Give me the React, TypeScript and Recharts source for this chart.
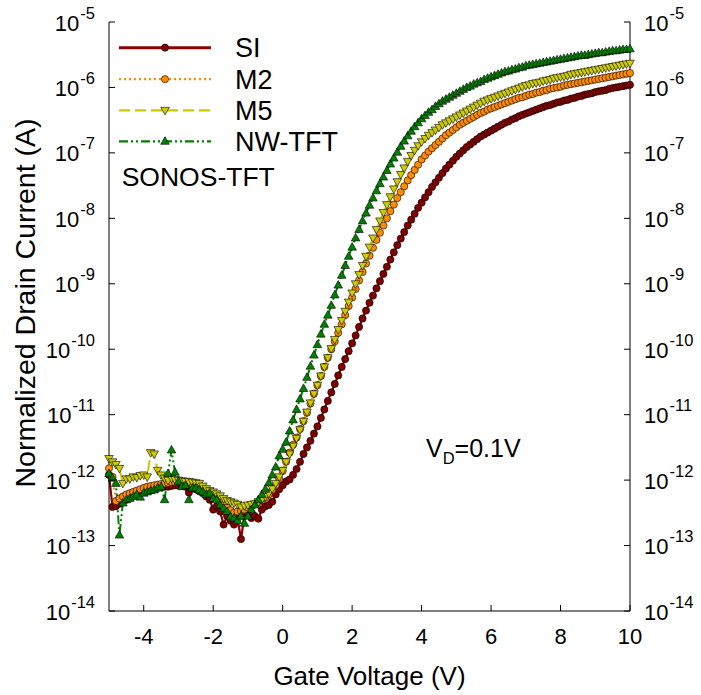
import React from "react";
import { LineChart, Line, XAxis, YAxis, Legend } from "recharts";

// gate voltage sweep (V)
const gateVoltage = [
  -5.0, -4.9, -4.8, -4.7, -4.6, -4.5, -4.4, -4.3, -4.2, -4.1,
  -4.0, -3.9, -3.8, -3.7, -3.6, -3.5, -3.4, -3.3, -3.2, -3.1,
  -3.0, -2.9, -2.8, -2.7, -2.6, -2.5, -2.4, -2.3, -2.2, -2.1,
  -2.0, -1.9, -1.8, -1.7, -1.6, -1.5, -1.4, -1.3, -1.2, -1.1,
  -1.0, -0.9, -0.8, -0.7, -0.6, -0.5, -0.4, -0.3, -0.2, -0.1,
  0.0, 0.1, 0.2, 0.3, 0.4, 0.5, 0.6, 0.7, 0.8, 0.9,
  1.0, 1.1, 1.2, 1.3, 1.4, 1.5, 1.6, 1.7, 1.8, 1.9,
  2.0, 2.1, 2.2, 2.3, 2.4, 2.5, 2.6, 2.7, 2.8, 2.9,
  3.0, 3.1, 3.2, 3.3, 3.4, 3.5, 3.6, 3.7, 3.8, 3.9,
  4.0, 4.1, 4.2, 4.3, 4.4, 4.5, 4.6, 4.7, 4.8, 4.9,
  5.0, 5.1, 5.2, 5.3, 5.4, 5.5, 5.6, 5.7, 5.8, 5.9,
  6.0, 6.1, 6.2, 6.3, 6.4, 6.5, 6.6, 6.7, 6.8, 6.9,
  7.0, 7.1, 7.2, 7.3, 7.4, 7.5, 7.6, 7.7, 7.8, 7.9,
  8.0, 8.1, 8.2, 8.3, 8.4, 8.5, 8.6, 8.7, 8.8, 8.9,
  9.0, 9.1, 9.2, 9.3, 9.4, 9.5, 9.6, 9.7, 9.8, 9.9,
  10.0,
];

// drain current, log10(A)
const siLog = [
  -11.92, -12.41, -12.40, -12.36, -12.33, -12.30, -12.27, -12.24, -12.22, -12.20,
  -12.18, -12.16, -12.15, -12.13, -12.12, -12.11, -12.10, -12.10, -12.09, -12.08,
  -12.08, -12.09, -12.10, -12.19, -12.12, -12.14, -12.17, -12.20, -12.25, -12.30,
  -12.45, -12.40, -12.48, -12.68, -12.55, -12.62, -12.68, -12.58, -12.90, -12.55,
  -12.52, -12.58, -12.55, -12.59, -12.45, -12.40, -12.38, -12.33, -12.22, -12.14,
  -12.08, -12.02, -11.99, -11.92, -11.83, -11.72, -11.60, -11.50, -11.40, -11.29,
  -11.18, -11.05, -10.92, -10.79, -10.66, -10.53, -10.40, -10.27, -10.15, -10.03,
  -9.91, -9.79, -9.66, -9.53, -9.41, -9.29, -9.18, -9.07, -8.96, -8.85,
  -8.74, -8.63, -8.52, -8.41, -8.31, -8.21, -8.11, -8.02, -7.93, -7.84,
  -7.76, -7.68, -7.60, -7.52, -7.45, -7.38, -7.31, -7.24, -7.18, -7.12,
  -7.06, -7.01, -6.96, -6.91, -6.87, -6.83, -6.79, -6.75, -6.72, -6.69,
  -6.66, -6.63, -6.60, -6.57, -6.54, -6.52, -6.49, -6.47, -6.44, -6.42,
  -6.40, -6.38, -6.36, -6.34, -6.32, -6.30, -6.28, -6.27, -6.25, -6.23,
  -6.22, -6.20, -6.19, -6.17, -6.16, -6.14, -6.13, -6.11, -6.10, -6.09,
  -6.07, -6.06, -6.05, -6.04, -6.02, -6.01, -6.00, -5.99, -5.98, -5.97,
  -5.96,
];

const m2Log = [
  -11.82, -11.95, -12.32, -12.28, -12.25, -12.22, -12.20, -12.18, -12.16, -12.14,
  -12.12, -12.10, -12.09, -12.08, -12.07, -12.06, -12.05, -12.04, -12.03, -12.03,
  -12.02, -12.03, -12.04, -12.05, -12.07, -12.08, -12.10, -12.13, -12.16, -12.20,
  -12.24, -12.28, -12.33, -12.38, -12.42, -12.46, -12.50, -12.48, -12.47, -12.45,
  -12.42, -12.40, -12.37, -12.34, -12.31, -12.27, -12.22, -12.15, -12.08, -11.98,
  -11.86, -11.72, -11.58, -11.46, -11.35, -11.22, -11.10, -10.97, -10.83, -10.68,
  -10.55, -10.41, -10.27, -10.13, -10.00, -9.88, -9.75, -9.62, -9.48, -9.34,
  -9.21, -9.08, -8.95, -8.82, -8.69, -8.57, -8.45, -8.33, -8.22, -8.11,
  -8.00, -7.89, -7.79, -7.69, -7.60, -7.51, -7.42, -7.34, -7.26, -7.18,
  -7.10, -7.04, -6.98, -6.93, -6.88, -6.83, -6.78, -6.73, -6.69, -6.65,
  -6.61, -6.57, -6.54, -6.51, -6.48, -6.45, -6.42, -6.39, -6.37, -6.34,
  -6.32, -6.30, -6.28, -6.26, -6.24, -6.22, -6.20, -6.18, -6.16, -6.15,
  -6.13, -6.11, -6.10, -6.08, -6.07, -6.05, -6.04, -6.02, -6.01, -6.00,
  -5.99, -5.97, -5.96, -5.95, -5.94, -5.93, -5.92, -5.91, -5.90, -5.89,
  -5.88, -5.87, -5.86, -5.85, -5.84, -5.83, -5.82, -5.81, -5.80, -5.79,
  -5.78,
];

const m5Log = [
  -11.67, -11.72, -11.76, -11.82, -12.05, -11.98, -11.98, -11.95, -11.96, -11.93,
  -11.92, -11.95, -11.58, -11.60, -11.85, -11.92, -11.97, -12.00, -11.97, -11.99,
  -12.00, -12.01, -12.02, -12.02, -12.03, -12.04, -12.05, -12.09, -12.13, -12.16,
  -12.18, -12.21, -12.24, -12.28, -12.31, -12.33, -12.35, -12.37, -12.41, -12.39,
  -12.38, -12.37, -12.36, -12.33, -12.30, -12.25, -12.20, -12.13, -12.05, -11.95,
  -11.85, -11.72, -11.60, -11.48, -11.36, -11.23, -11.10, -10.96, -10.82, -10.68,
  -10.55, -10.41, -10.27, -10.13, -9.99, -9.85, -9.70, -9.56, -9.42, -9.28,
  -9.14, -9.00, -8.86, -8.72, -8.58, -8.44, -8.30, -8.17, -8.04, -7.91,
  -7.79, -7.67, -7.55, -7.44, -7.33, -7.23, -7.13, -7.04, -6.96, -6.89,
  -6.83, -6.78, -6.73, -6.69, -6.65, -6.61, -6.57, -6.54, -6.51, -6.48,
  -6.45, -6.42, -6.39, -6.36, -6.33, -6.30, -6.27, -6.24, -6.21, -6.19,
  -6.17, -6.15, -6.13, -6.11, -6.09, -6.07, -6.05, -6.03, -6.01, -5.99,
  -5.97, -5.96, -5.94, -5.93, -5.92, -5.90, -5.89, -5.88, -5.86, -5.85,
  -5.84, -5.83, -5.82, -5.80, -5.79, -5.78, -5.77, -5.76, -5.75, -5.74,
  -5.73, -5.72, -5.71, -5.70, -5.69, -5.68, -5.67, -5.66, -5.65, -5.64,
  -5.63,
];

const nwLog = [
  -11.90, -11.97, -12.05, -12.84, -12.35, -12.30, -12.28, -12.25, -12.22, -12.26,
  -12.20, -12.18, -12.16, -12.15, -12.12, -12.10, -12.30, -11.90, -11.54, -11.88,
  -12.02, -12.10, -12.08, -12.30, -12.12, -12.12, -12.15, -12.18, -12.22, -12.20,
  -12.28, -12.30, -12.38, -12.43, -12.48, -12.56, -12.58, -12.62, -12.55, -12.66,
  -12.55, -12.45, -12.38, -12.30, -12.22, -12.14, -12.04, -11.92, -11.80, -11.63,
  -11.53, -11.42, -11.25, -11.08, -10.92, -10.76, -10.60, -10.43, -10.26, -10.09,
  -9.93, -9.77, -9.62, -9.48, -9.33, -9.17, -9.02, -8.87, -8.72, -8.58,
  -8.44, -8.30, -8.17, -8.04, -7.92, -7.80, -7.69, -7.58, -7.47, -7.37,
  -7.27, -7.17, -7.08, -6.99, -6.90, -6.82, -6.74, -6.67, -6.60, -6.54,
  -6.48, -6.43, -6.38, -6.34, -6.29, -6.25, -6.21, -6.18, -6.15, -6.12,
  -6.09, -6.06, -6.03, -6.00, -5.98, -5.95, -5.93, -5.91, -5.88, -5.86,
  -5.84, -5.82, -5.80, -5.78, -5.76, -5.75, -5.73, -5.72, -5.70, -5.69,
  -5.67, -5.66, -5.65, -5.64, -5.63, -5.62, -5.61, -5.60, -5.59, -5.58,
  -5.57, -5.56, -5.55, -5.54, -5.53, -5.52, -5.51, -5.51, -5.50, -5.49,
  -5.48, -5.47, -5.47, -5.46, -5.45, -5.44, -5.44, -5.43, -5.42, -5.42,
  -5.41,
];

const xTicks = [-4, -2, 0, 2, 4, 6, 8, 10];
const yTicks = [1e-14, 1e-13, 1e-12, 1e-11, 1e-10, 1e-9, 1e-8, 1e-7, 1e-6, 1e-5];

const FONT = '"Liberation Sans", Arial, Helvetica, sans-serif';

const series = [
  { key: "si", name: "SI", line: "#8B0000", fill: "#800000", dash: undefined, marker: "circle", width: 2.2 },
  { key: "m2", name: "M2", line: "#FF8C00", fill: "#FF8C00", dash: "2 3", marker: "circle", width: 2 },
  { key: "m5", name: "M5", line: "#CCC800", fill: "#CCCC00", dash: "11 5", marker: "down", width: 2 },
  { key: "nw", name: "NW-TFT", line: "#008000", fill: "#008000", dash: "9 3 2 3 2 3", marker: "up", width: 2 },
];

const data = gateVoltage.map((v, i) => ({
  v,
  si: 10 ** siLog[i],
  m2: 10 ** m2Log[i],
  m5: 10 ** m5Log[i],
  nw: 10 ** nwLog[i],
}));

function Marker({ cx, cy, kind, fill }: any) {
  if (cx == null || cy == null || isNaN(cx) || isNaN(cy)) return null;
  if (kind === "circle") {
    return <circle cx={cx} cy={cy} r={3.6} fill={fill} stroke="#000" strokeWidth={0.6} />;
  }
  const s = kind === "up" ? 1 : -1;
  const pts = `${cx},${cy - s * 4.6} ${cx - 4.3},${cy + s * 3} ${cx + 4.3},${cy + s * 3}`;
  return <polygon points={pts} fill={fill} stroke="#000" strokeWidth={0.6} />;
}

const expOf = (v: number) => Math.round(Math.log10(v));

const LeftTick = ({ x, y, payload }: any) => (
  <g>
    <line x1={x} x2={x + 6} y1={y} y2={y} stroke="#000" strokeWidth={1} />
    <text x={x - 14} y={y + 8.5} textAnchor="end" fontFamily={FONT} fontSize={22} fill="#000">
      10<tspan dx={1} dy={-12} fontSize={16.5}>{expOf(payload.value)}</tspan>
    </text>
  </g>
);

const RightTick = ({ x, y, payload }: any) => (
  <g>
    <line x1={x} x2={x - 6} y1={y} y2={y} stroke="#000" strokeWidth={1} />
    <text x={x + 14} y={y + 8.5} textAnchor="start" fontFamily={FONT} fontSize={22} fill="#000">
      10<tspan dx={1} dy={-12} fontSize={16.5}>{expOf(payload.value)}</tspan>
    </text>
  </g>
);

const BottomTick = ({ x, y, payload }: any) => (
  <g>
    <line x1={x} x2={x} y1={y} y2={y - 6} stroke="#000" strokeWidth={1} />
    <text x={x} y={y + 33} textAnchor="middle" fontFamily={FONT} fontSize={22} fill="#000">
      {payload.value}
    </text>
  </g>
);

const XTitle = ({ viewBox }: any) => (
  <text
    x={viewBox.x + viewBox.width / 2}
    y={viewBox.y + 74}
    textAnchor="middle"
    fontFamily={FONT}
    fontSize={26}
    fill="#000"
  >
    Gate Voltage (V)
  </text>
);

const YTitle = () => (
  <text
    x={25}
    y={303}
    transform="rotate(-90 25 303)"
    textAnchor="middle"
    dominantBaseline="central"
    fontFamily={FONT}
    fontSize={28.5}
    fill="#000"
  >
    Normalized Drain Current (A)
  </text>
);

const LegendBox = () => {
  const rows = [47.7, 79.2, 110.3, 141.3];
  return (
    <svg width={400} height={200} style={{ overflow: "visible" }}>
      {series.map((s, i) => (
        <g key={s.key}>
          <line
            x1={119}
            x2={211}
            y1={rows[i]}
            y2={rows[i]}
            stroke={s.line}
            strokeWidth={s.key === "si" ? 3 : 2.2}
            strokeDasharray={s.dash}
          />
          <Marker cx={165} cy={rows[i]} kind={s.marker} fill={s.fill} />
          <text x={235} y={rows[i] + 9.5} fontFamily={FONT} fontSize={27} fill="#000">
            {s.name}
          </text>
        </g>
      ))}
    </svg>
  );
};

export default function App() {
  return (
    <div style={{ width: 701, height: 695, background: "#fff" }}>
      <style>{`body{margin:0}`}</style>
      <LineChart width={701} height={695} data={data} margin={{ top: 22, right: 0, left: 0, bottom: 0 }}>
        <XAxis
          dataKey="v"
          type="number"
          domain={[-5, 10]}
          ticks={xTicks}
          height={84}
          tickSize={0}
          tickMargin={0}
          tickLine={false}
          tick={<BottomTick />}
          axisLine={{ stroke: "#000", strokeWidth: 1 }}
          interval={0}
          label={<XTitle />}
        />
        <XAxis
          xAxisId="top"
          orientation="top"
          type="number"
          domain={[-5, 10]}
          height={0}
          tick={false}
          tickLine={false}
          axisLine={{ stroke: "#000", strokeWidth: 1 }}
        />
        <YAxis
          yAxisId="left"
          type="number"
          scale="log"
          domain={[1e-14, 1e-5]}
          allowDataOverflow
          ticks={yTicks}
          width={109}
          tickSize={0}
          tickMargin={0}
          tickLine={false}
          tick={<LeftTick />}
          interval={0}
          axisLine={{ stroke: "#000", strokeWidth: 1 }}
        />
        <YAxis
          yAxisId="right"
          orientation="right"
          type="number"
          scale="log"
          domain={[1e-14, 1e-5]}
          allowDataOverflow
          ticks={yTicks}
          width={71}
          tickSize={0}
          tickMargin={0}
          tickLine={false}
          tick={<RightTick />}
          interval={0}
          axisLine={{ stroke: "#000", strokeWidth: 1 }}
        />
        {series.map((s) => (
          <Line
            key={s.key}
            yAxisId="left"
            type="linear"
            dataKey={s.key}
            name={s.name}
            stroke={s.line}
            strokeWidth={s.width}
            strokeDasharray={s.dash}
            isAnimationActive={false}
            activeDot={false}
            dot={(p: any) => (
              <Marker key={`${s.key}-${p.index}`} cx={p.cx} cy={p.cy} kind={s.marker} fill={s.fill} />
            )}
          />
        ))}
        <Legend
          layout="vertical"
          align="center"
          verticalAlign="middle"
          wrapperStyle={{ left: 0, top: 0, width: 400, height: 200 }}
          content={() => <LegendBox />}
        />
        <YTitle />
        <text x={121.7} y={186} fontFamily={FONT} fontSize={26.5} fill="#000">
          SONOS-TFT
        </text>
        <text x={426} y={457} fontFamily={FONT} fontSize={25} fill="#000">
          V
          <tspan dy={7} fontSize={16.5}>
            D
          </tspan>
          <tspan dy={-7} fontSize={25}>
            =0.1V
          </tspan>
        </text>
      </LineChart>
    </div>
  );
}
